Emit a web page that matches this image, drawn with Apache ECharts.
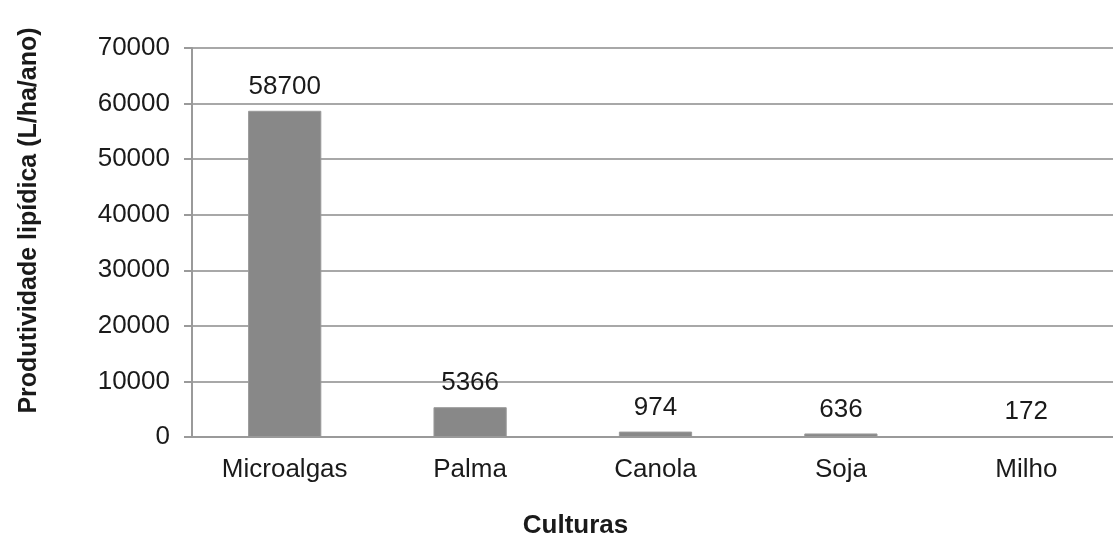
<!DOCTYPE html>
<html>
<head>
<meta charset="utf-8">
<script src="https://cdn.jsdelivr.net/npm/echarts@6/dist/echarts.min.js"></script>
<style>
html,body{margin:0;padding:0;background:#fff;}
#chart{width:1113px;height:540px;}
</style>
</head>
<body>
<div id="chart"></div>
<script>
// Lipid productivity by crop (L/ha/ano)
const categories = ['Microalgas', 'Palma', 'Canola', 'Soja', 'Milho'];
const productivity = [58700, 5366, 974, 636, 172];
const yTicks = [0, 10000, 20000, 30000, 40000, 50000, 60000, 70000];

const font = 'Liberation Sans, Arial, sans-serif';
const textColor = '#1a1a1a';
const chart = echarts.init(document.getElementById('chart'));
chart.setOption({
  animation: false,
  backgroundColor: '#ffffff',
  grid: { left: 192, top: 48, width: 927, height: 389, containLabel: false, outerBoundsMode: 'none' },
  xAxis: {
    type: 'category',
    data: categories,
    name: 'Culturas',
    nameLocation: 'middle',
    nameGap: 76,
    nameTextStyle: { fontFamily: font, fontSize: 26, fontWeight: 'bold', color: textColor, padding: [0, 0, 0, -160] },
    axisLine: { lineStyle: { color: '#9a9a9a', width: 2 } },
    axisTick: { show: false },
    axisLabel: { fontFamily: font, fontSize: 26, color: textColor, margin: 20 }
  },
  yAxis: {
    type: 'value',
    min: yTicks[0],
    max: yTicks[yTicks.length - 1],
    interval: 10000,
    name: 'Produtividade lipídica (L/ha/ano)',
    nameLocation: 'middle',
    nameGap: 150,
    nameTextStyle: { fontFamily: font, fontSize: 25, fontWeight: 'bold', color: textColor, padding: [0, 0, 0, 44] },
    axisLine: { show: true, lineStyle: { color: '#9a9a9a', width: 2 } },
    axisTick: { show: true, length: 8, lineStyle: { color: '#9a9a9a', width: 2 } },
    axisLabel: { fontFamily: font, fontSize: 26, color: textColor, margin: 22, formatter: v => String(v) },
    splitLine: { lineStyle: { color: '#a8a8a8', width: 2 } }
  },
  series: [{
    type: 'bar',
    data: productivity,
    barWidth: '39.5%',
    itemStyle: { color: '#888888', borderColor: '#9a9a9a', borderWidth: 1 },
    label: {
      show: true,
      position: 'top',
      distance: 11,
      fontFamily: font,
      fontSize: 26,
      color: textColor
    }
  }]
});
</script>
</body>
</html>
